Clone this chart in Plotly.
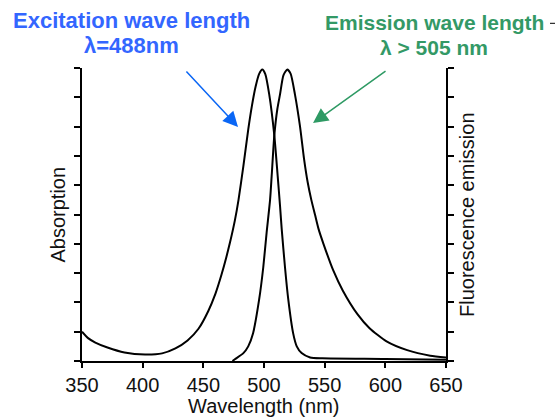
import plotly.graph_objects as go

# Absorption (excitation) spectrum
abs_nm = [350, 355, 361, 371, 385, 402, 416, 427, 437, 446, 454, 460, 465, 469, 472, 476,
          479, 483, 487, 490, 493, 496, 498.6, 501, 504.3, 508.5, 511.3, 513.2, 514.6, 517.3,
          520, 524, 527, 531, 538, 548, 600, 650]
abs_val = [0.10, 0.078, 0.063, 0.046, 0.029, 0.022, 0.026, 0.043, 0.07, 0.11, 0.17, 0.23, 0.295,
           0.355, 0.405, 0.48, 0.55, 0.665, 0.79, 0.87, 0.935, 0.98, 0.995, 0.98, 0.91, 0.77, 0.63,
           0.53, 0.45, 0.32, 0.21, 0.095, 0.05, 0.027, 0.012, 0.009, 0.007, 0.004]

# Fluorescence emission spectrum
em_nm = [474, 476, 483, 487, 491, 496, 499.4, 502.2, 505, 506.3, 508.5, 511, 513.2, 516, 519.2,
         522, 525.5, 529.7, 533, 536, 539, 542, 545, 549, 557, 565, 577, 587, 601, 618, 637, 650]
em_val = [0.0, 0.006, 0.027, 0.05, 0.095, 0.21, 0.32, 0.44, 0.55, 0.63, 0.77, 0.86, 0.91, 0.975,
          0.995, 0.98, 0.91, 0.80, 0.69, 0.61, 0.55, 0.50, 0.45, 0.40, 0.31, 0.24, 0.16, 0.112,
          0.067, 0.037, 0.018, 0.012]

x_ticks = [350, 400, 450, 500, 550, 600, 650]
y_ticks = [i / 10 for i in range(11)]

FONT = "Arial, Liberation Sans, Helvetica, sans-serif"

fig = go.Figure()
fig.add_trace(go.Scatter(x=abs_nm, y=abs_val, mode="lines", line=dict(color="black", width=2, shape="spline", smoothing=0.6),
                         showlegend=False, hoverinfo="skip"))
fig.add_trace(go.Scatter(x=em_nm, y=em_val, mode="lines", line=dict(color="black", width=2, shape="spline", smoothing=0.6),
                         yaxis="y2", showlegend=False, hoverinfo="skip"))

axis_common = dict(showgrid=False, zeroline=False, showline=True, linecolor="black", linewidth=2,
                   ticks="outside", tickcolor="black", tickwidth=1.5)

fig.update_layout(
    width=556, height=419,
    margin=dict(l=82, r=110, t=68, b=58),
    paper_bgcolor="white", plot_bgcolor="white",
    font=dict(family=FONT, color="#111111", size=20),
    xaxis=dict(range=[350, 650], tickvals=x_ticks, ticktext=[str(v) for v in x_ticks], ticklen=5,
               tickfont=dict(size=20, family=FONT, color="#111111"), **axis_common),
    yaxis=dict(range=[0, 1], tickvals=y_ticks, showticklabels=False, ticklen=6, **axis_common),
    yaxis2=dict(range=[0, 1], tickvals=y_ticks, showticklabels=False, ticklen=6, overlaying="y",
                side="right", anchor="x", **axis_common),
)

def px_x(px):
    return (px - 82) / 364

def px_y(py):
    return (361 - py) / 293

BLUE_T = "#3366FF"
GREEN_T = "#339966"
ann = [
    dict(text="Wavelength (nm)", x=0.5, y=px_y(406), xref="paper", yref="paper", showarrow=False,
         font=dict(size=20, family=FONT, color="#111111"), xanchor="center", yanchor="middle"),
    dict(text="Absorption", x=px_x(57), y=0.5, xref="paper", yref="paper", showarrow=False, textangle=-90,
         font=dict(size=20, family=FONT, color="#111111"), xanchor="center", yanchor="middle"),
    dict(text="Fluorescence emission", x=px_x(466.5), y=0.5, xref="paper", yref="paper", showarrow=False,
         textangle=-90, font=dict(size=20, family=FONT, color="#111111"), xanchor="center", yanchor="middle"),
    dict(text="<b>Excitation wave length</b>", x=px_x(131), y=px_y(20.5), xref="paper", yref="paper",
         showarrow=False, font=dict(size=22, family=FONT, color=BLUE_T), xanchor="center", yanchor="middle"),
    dict(text="<b>λ=488nm</b>", x=px_x(131), y=px_y(45.5), xref="paper", yref="paper",
         showarrow=False, font=dict(size=22, family=FONT, color=BLUE_T), xanchor="center", yanchor="middle"),
    dict(text="<b>Emission wave length</b>", x=px_x(434), y=px_y(23), xref="paper", yref="paper",
         showarrow=False, font=dict(size=21, family=FONT, color=GREEN_T), xanchor="center", yanchor="middle"),
    dict(text="<b>λ > 505 nm</b>", x=px_x(433.5), y=px_y(47.5), xref="paper", yref="paper",
         showarrow=False, font=dict(size=21, family=FONT, color=GREEN_T), xanchor="center", yanchor="middle"),
    # arrows
    dict(text="", x=478.6, y=0.799, xref="x", yref="y", ax=-53, ay=-57, showarrow=True,
         arrowhead=2, arrowsize=2, arrowwidth=1.5, arrowcolor="#0A66F5"),
    dict(text="", x=540.4, y=0.812, xref="x", yref="y", ax=74, ay=-53, showarrow=True,
         arrowhead=2, arrowsize=2, arrowwidth=1.5, arrowcolor="#2E9A64"),
]
fig.update_layout(annotations=ann)
fig.add_shape(type="line", xref="paper", yref="paper", x0=px_x(550), x1=px_x(555), y0=px_y(23.3), y1=px_y(23.3),
              line=dict(color="black", width=1))

fig.write_html("out.html", config={"displayModeBar": False},
               post_script="document.body.style.margin='0';document.body.style.overflow='hidden';")
